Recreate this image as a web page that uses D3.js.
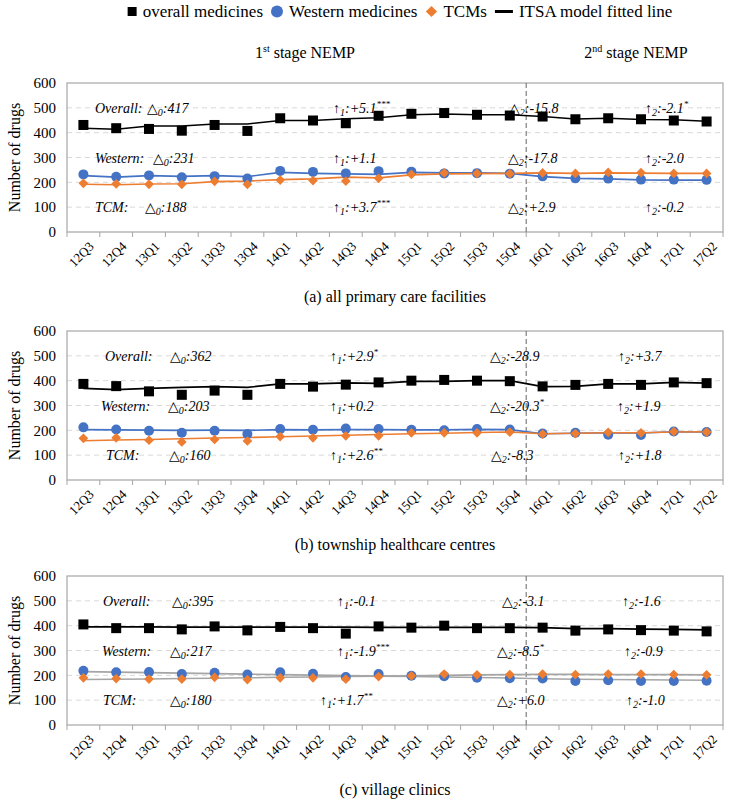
<!DOCTYPE html>
<html>
<head>
<meta charset="utf-8">
<script src="https://cdn.jsdelivr.net/npm/d3@7"></script>
<style>
  body { margin: 0; background: #fff; }
  svg text { font-family: "Liberation Serif", "Tinos", "Times New Roman", "DejaVu Serif", serif; fill: #000; }
</style>
</head>
<body>
<div id="chart"></div>
<script>
const width = 736;
const height = 808;

// quarters on the x axis
const quarters = ["12Q3","12Q4","13Q1","13Q2","13Q3","13Q4","14Q1","14Q2","14Q3","14Q4",
                  "15Q1","15Q2","15Q3","15Q4","16Q1","16Q2","16Q3","16Q4","17Q1","17Q2"];
const yTicks = [0, 100, 200, 300, 400, 500, 600];

// (a) all primary care facilities
const overallA    = [431, 418, 415, 408, 431, 407, 458, 449, 438, 468, 476, 479, 472, 469, 465, 454, 458, 454, 449, 445];
const overallFitA = [418, 414, 427, 427, 435, 435, 449, 449, 456, 460, 472, 475, 472, 472, 465, 455, 458, 453, 452, 446];
const westernA    = [232, 222, 228, 220, 225, 215, 246, 242, 236, 245, 243, 236, 237, 235, 224, 216, 215, 211, 211, 210];
const westernFitA = [227, 221, 227, 224, 227, 223, 240, 236, 234, 232, 240, 238, 238, 236, 223, 216, 214, 210, 209, 209];
const tcmA        = [196, 194, 192, 192, 204, 192, 209, 207, 205, 216, 232, 238, 236, 235, 238, 236, 240, 239, 236, 236];
const tcmFitA     = [192, 190, 193, 194, 203, 205, 211, 214, 221, 218, 230, 234, 235, 236, 238, 236, 238, 237, 236, 236];

// (b) township healthcare centres
const overallB    = [387, 378, 357, 343, 360, 343, 387, 376, 384, 393, 400, 403, 400, 398, 377, 383, 387, 383, 393, 390];
const overallFitB = [369, 364, 369, 373, 376, 373, 387, 387, 391, 389, 397, 397, 400, 400, 376, 377, 387, 387, 393, 390];
const westernB    = [212, 203, 198, 190, 198, 185, 205, 202, 207, 205, 202, 200, 205, 203, 187, 190, 182, 181, 195, 193];
const westernFitB = [203, 202, 201, 200, 201, 200, 203, 202, 203, 203, 202, 202, 204, 203, 186, 188, 190, 189, 194, 193];
const tcmB        = [168, 170, 160, 153, 163, 157, 175, 170, 178, 178, 190, 190, 190, 193, 185, 187, 192, 190, 195, 193];
const tcmFitB     = [158, 161, 163, 166, 169, 171, 174, 177, 180, 183, 186, 188, 191, 193, 186, 188, 190, 190, 193, 194];

// (c) village clinics
const overallC    = [405, 390, 390, 385, 397, 381, 395, 390, 368, 397, 392, 400, 390, 390, 392, 380, 385, 382, 380, 377];
const overallFitC = [395, 395, 395, 394, 394, 394, 394, 394, 394, 393, 393, 393, 393, 393, 392, 388, 388, 386, 385, 383];
const westernC    = [218, 212, 213, 205, 210, 203, 212, 206, 193, 205, 198, 196, 190, 188, 187, 177, 180, 177, 177, 178];
const westernFitC = [215, 213, 211, 209, 207, 205, 203, 201, 199, 197, 195, 193, 191, 189, 186, 184, 183, 182, 181, 180];
const tcmC        = [190, 187, 185, 185, 192, 183, 190, 190, 185, 195, 198, 205, 202, 203, 205, 203, 205, 205, 203, 202];
const tcmFitC     = [183, 184, 185, 187, 188, 190, 192, 193, 195, 197, 198, 200, 202, 203, 204, 204, 203, 203, 203, 202];

// ITSA estimates printed in each panel (rows: Overall, Western, TCM)
const rowLabels = ["Overall:", "Western:", "TCM:"];
const delta0A = ["417", "231", "188"], slope1A = ["+5.1***", "+1.1", "+3.7***"], delta2A = ["-15.8", "-17.8", "+2.9"], slope2A = ["-2.1*", "-2.0", "-0.2"];
const delta0B = ["362", "203", "160"], slope1B = ["+2.9*", "+0.2", "+2.6**"],    delta2B = ["-28.9", "-20.3*", "-8.3"], slope2B = ["+3.7", "+1.9", "+1.8"];
const delta0C = ["395", "217", "180"], slope1C = ["-0.1", "-1.9***", "+1.7**"],   delta2C = ["-3.1", "-8.5*", "+6.0"],  slope2C = ["-1.6", "-0.9", "-1.0"];
const annotRowValues = [500, 300, 100];

const blue = "#4472c4", orange = "#ed7d31", grey = "#a5a5a5";

const panels = [
  { title: "(a) all primary care facilities", top: 83,
    overall: overallA, overallFit: overallFitA, western: westernA, westernFit: westernFitA, tcm: tcmA, tcmFit: tcmFitA,
    fitColors: [blue, orange], d0: delta0A, s1: slope1A, d2: delta2A, s2: slope2A,
    ax: { label: [95, 95, 95], d0: [147, 153, 145], s1: [333, 333, 333], d2: [509, 508, 508], s2: [645, 645, 645] } },
  { title: "(b) township healthcare centres", top: 331,
    overall: overallB, overallFit: overallFitB, western: westernB, westernFit: westernFitB, tcm: tcmB, tcmFit: tcmFitB,
    fitColors: [blue, orange], d0: delta0B, s1: slope1B, d2: delta2B, s2: slope2B,
    ax: { label: [105, 101, 106], d0: [170, 168, 169], s1: [330, 330, 330], d2: [490, 490, 491], s2: [618, 617, 618] } },
  { title: "(c) village clinics", top: 576,
    overall: overallC, overallFit: overallFitC, western: westernC, westernFit: westernFitC, tcm: tcmC, tcmFit: tcmFitC,
    fitColors: [grey, grey], d0: delta0C, s1: slope1C, d2: delta2C, s2: slope2C,
    ax: { label: [103, 102, 103], d0: [172, 170, 170], s1: [337, 337, 320], d2: [502, 497, 497], s2: [622, 624, 626] } }
];

const plotLeft = 67, plotRight = 723, plotH = 149;
const serif = "'Liberation Serif', 'Tinos', 'Times New Roman', 'DejaVu Serif', serif";

const svg = d3.select("#chart").append("svg")
  .attr("width", width)
  .attr("height", height)
  .attr("font-family", serif);

const x = d3.scaleBand().domain(quarters).range([plotLeft, plotRight]);
const xc = d => x(d) + x.bandwidth() / 2;

// legend
const legend = svg.append("g").attr("transform", "translate(0,17)");
const legendItems = [
  { label: "overall medicines", kind: "square" },
  { label: "Western medicines", kind: "circle" },
  { label: "TCMs", kind: "diamond" },
  { label: "ITSA model fitted line", kind: "line" }
];
let lx = 0;
legendItems.forEach(it => {
  const g = legend.append("g");
  let mw = 10;
  if (it.kind === "square") {
    g.append("rect").attr("x", lx).attr("y", -10).attr("width", 9).attr("height", 9).attr("fill", "#000");
    mw = 9;
  } else if (it.kind === "circle") {
    g.append("circle").attr("cx", lx + 6).attr("cy", -5.5).attr("r", 6).attr("fill", blue);
    mw = 12;
  } else if (it.kind === "diamond") {
    g.append("path").attr("d", d3.symbol(d3.symbolDiamond2, 80)()).attr("transform", `translate(${lx + 6},-5.5)`).attr("fill", orange);
    mw = 12;
  } else {
    g.append("line").attr("x1", lx).attr("x2", lx + 18).attr("y1", -5.5).attr("y2", -5.5).attr("stroke", "#000").attr("stroke-width", 3);
    mw = 18;
  }
  const t = g.append("text").attr("x", lx + mw + 6).attr("y", 0).style("font-size", "17px").text(it.label);
  lx += mw + 6 + t.node().getComputedTextLength() + 8;
});
legend.attr("transform", `translate(${400 - (lx - 8) / 2},17)`);

// stage labels
function stageLabel(cx, num, sup) {
  const t = svg.append("text").attr("x", cx).attr("y", 58).attr("text-anchor", "middle").style("font-size", "16px");
  t.append("tspan").text(num);
  t.append("tspan").attr("dy", -6).style("font-size", "10px").text(sup);
  t.append("tspan").attr("dy", 6).text(" stage NEMP");
}
stageLabel(305, "1", "st");
stageLabel(636, "2", "nd");

function addRich(g, xPos, yPos, parts) {
  const t = g.append("text").attr("x", xPos).attr("y", yPos).style("font-size", "14px").style("font-style", "italic");
  parts.forEach(p => {
    const s = t.append("tspan").text(p.t);
    if (p.sub) s.attr("dy", 3).style("font-size", "10px");
    if (p.back) s.attr("dy", -3);
    if (p.sup) s.attr("dy", -6).style("font-size", "9px");
    if (p.upright) s.style("font-style", "normal");
  });
  return t;
}

function splitStars(v) {
  const m = v.match(/^([^*]+)(\**)$/);
  return [m[1], m[2]];
}

panels.forEach(p => {
  const g = svg.append("g");
  const y = d3.scaleLinear().domain([0, 600]).range([p.top + plotH, p.top]);

  // grid lines
  g.append("g").selectAll("line").data(yTicks.filter(v => v > 0 && v < 600)).join("line")
    .attr("x1", plotLeft).attr("x2", plotRight)
    .attr("y1", d => y(d)).attr("y2", d => y(d))
    .attr("stroke", "#d9d9d9").attr("stroke-dasharray", "5,4");

  // plot border
  g.append("rect").attr("x", plotLeft).attr("y", y(600)).attr("width", plotRight - plotLeft).attr("height", y(0) - y(600))
    .attr("fill", "none").attr("stroke", "#a6a6a6").attr("stroke-width", 1.2);

  // y axis labels
  const yAxis = g.append("g").attr("transform", `translate(${plotLeft},0)`)
    .call(d3.axisLeft(y).tickValues(yTicks).tickSize(0).tickPadding(11));
  yAxis.attr("font-family", serif);
  yAxis.select(".domain").remove();
  yAxis.selectAll("text").style("font-size", "15px").attr("fill", "#000");

  // x axis: labels at band centres, ticks at band edges
  const xAxis = g.append("g").attr("transform", `translate(0,${y(0)})`)
    .call(d3.axisBottom(x).tickSize(0));
  xAxis.attr("font-family", serif);
  xAxis.select(".domain").remove();
  xAxis.selectAll("text")
    .attr("x", 0).attr("y", 0).attr("dy", "0.35em")
    .attr("transform", "translate(8,12) rotate(-45)")
    .style("text-anchor", "end")
    .style("font-size", "13px").attr("fill", "#000");
  g.append("g").selectAll("line").data(quarters.concat(["end"])).join("line")
    .attr("x1", d => d === "end" ? plotRight : x(d)).attr("x2", d => d === "end" ? plotRight : x(d))
    .attr("y1", y(0)).attr("y2", y(0) + 5)
    .attr("stroke", "#a6a6a6");

  // y title
  g.append("text")
    .attr("transform", `translate(20,${(y(0) + y(600)) / 2}) rotate(-90)`)
    .attr("text-anchor", "middle")
    .style("font-size", "16px")
    .text("Number of drugs");

  // stage divider
  g.append("line")
    .attr("x1", x("16Q1")).attr("x2", x("16Q1"))
    .attr("y1", y(600)).attr("y2", y(0))
    .attr("stroke", "#7f7f7f").attr("stroke-width", 1.2).attr("stroke-dasharray", "5,3");

  // annotations
  rowLabels.forEach((lab, i) => {
    const ty = y(annotRowValues[i]) + 5;
    addRich(g, p.ax.label[i], ty, [{ t: lab }]);
    addRich(g, p.ax.d0[i], ty, [{ t: "△", upright: true }, { t: "0", sub: true }, { t: ":" + p.d0[i], back: true }]);
    const s1 = splitStars(p.s1[i]);
    const parts1 = [{ t: "↑", upright: true }, { t: "1", sub: true }, { t: ":" + s1[0], back: true }];
    if (s1[1]) parts1.push({ t: s1[1], sup: true });
    addRich(g, p.ax.s1[i], ty, parts1);
    const d2 = splitStars(p.d2[i]);
    const parts2 = [{ t: "△", upright: true }, { t: "2", sub: true }, { t: ":" + d2[0], back: true }];
    if (d2[1]) parts2.push({ t: d2[1], sup: true });
    addRich(g, p.ax.d2[i], ty, parts2);
    const s2 = splitStars(p.s2[i]);
    const parts3 = [{ t: "↑", upright: true }, { t: "2", sub: true }, { t: ":" + s2[0], back: true }];
    if (s2[1]) parts3.push({ t: s2[1], sup: true });
    addRich(g, p.ax.s2[i], ty, parts3);
  });

  // fitted lines
  const line = d3.line().x((d, i) => xc(quarters[i])).y(d => y(d));
  g.append("path").datum(p.overallFit).attr("d", line).attr("fill", "none").attr("stroke", "#000").attr("stroke-width", 1.6);
  g.append("path").datum(p.westernFit).attr("d", line).attr("fill", "none").attr("stroke", p.fitColors[0]).attr("stroke-width", 1.6);
  g.append("path").datum(p.tcmFit).attr("d", line).attr("fill", "none").attr("stroke", p.fitColors[1]).attr("stroke-width", 1.6);

  // observed markers
  g.append("g").selectAll("rect").data(p.overall).join("rect")
    .attr("x", (d, i) => xc(quarters[i]) - 5).attr("y", d => y(d) - 5)
    .attr("width", 10).attr("height", 10).attr("fill", "#000");
  g.append("g").selectAll("circle").data(p.western).join("circle")
    .attr("cx", (d, i) => xc(quarters[i])).attr("cy", d => y(d))
    .attr("r", 5).attr("fill", blue);
  g.append("g").selectAll("path").data(p.tcm).join("path")
    .attr("d", d3.symbol(d3.symbolDiamond2, 60)())
    .attr("transform", (d, i) => `translate(${xc(quarters[i])},${y(d)})`)
    .attr("fill", orange);

  // panel caption
  g.append("text").attr("x", (plotLeft + plotRight) / 2).attr("y", y(0) + 70)
    .attr("text-anchor", "middle").style("font-size", "16px").text(p.title);
});
</script>
</body>
</html>
